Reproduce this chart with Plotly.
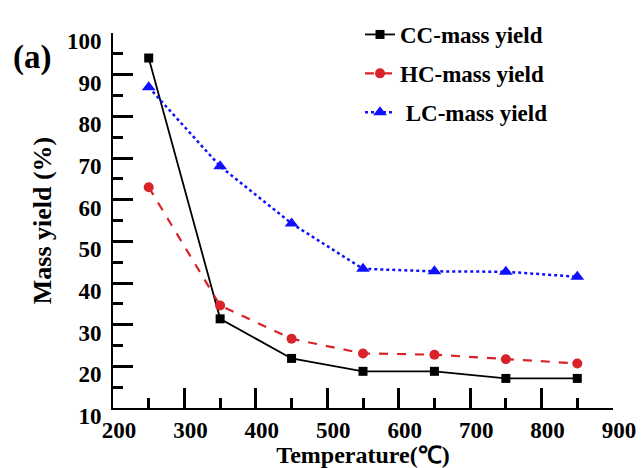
import plotly.graph_objects as go

temperature = [250, 350, 450, 550, 650, 750, 850]
cc_yield = [94.0, 31.4, 21.9, 18.8, 18.8, 17.1, 17.1]
hc_yield = [63.0, 34.6, 26.6, 23.1, 22.8, 21.7, 20.7]
lc_yield = [87.0, 68.0, 54.3, 43.4, 42.8, 42.7, 41.5]

x_ticks = [200, 300, 400, 500, 600, 700, 800, 900]
y_ticks = [10, 20, 30, 40, 50, 60, 70, 80, 90, 100]

X_RANGE = [200, 900]
Y_RANGE = [10, 100]
FONT = "Liberation Serif"

fig = go.Figure()
fig.add_trace(go.Scatter(
    x=temperature, y=cc_yield, name="CC-mass yield", mode="lines+markers",
    line=dict(color="black", width=1.8),
    marker=dict(symbol="square", size=9, color="black"),
    legendgroup="a"))
fig.add_trace(go.Scatter(
    x=temperature, y=hc_yield, name="HC-mass yield", mode="lines+markers",
    line=dict(color="#d8232a", width=2.2, dash="dash"),
    marker=dict(symbol="circle", size=10, color="#d8232a"),
    legendgroup="b"))
fig.add_trace(go.Scatter(
    x=temperature, y=lc_yield, name=" LC-mass yield", mode="lines+markers",
    line=dict(color="#1010ff", width=2.5, dash="dot"),
    marker=dict(symbol="triangle-up", size=12, color="#1010ff"),
    legendgroup="c"))

tickfont = dict(family=FONT, size=23, color="black", weight="bold")

fig.update_xaxes(
    range=X_RANGE, tickmode="array", tickvals=x_ticks, ticktext=[str(v) for v in x_ticks],
    showline=True, linecolor="black", linewidth=2, automargin=False,
    ticks="inside", tickcolor="black", tickwidth=3, ticklen=20,
    minor=dict(ticks="inside", ticklen=10, tickwidth=3, tickcolor="black", dtick=50, tick0=200),
    showgrid=False, zeroline=False, tickfont=tickfont,
    ticklabelshift=6,
    title=dict(text="<b>Temperature(℃)</b>", font=dict(family=FONT, size=24, color="black"), standoff=12),
)
fig.update_yaxes(
    range=Y_RANGE, tickmode="array", tickvals=y_ticks, ticktext=[str(v) for v in y_ticks],
    showline=True, linecolor="black", linewidth=2, automargin=False,
    ticks="inside", tickcolor="black", tickwidth=3, ticklen=20,
    minor=dict(ticks="inside", ticklen=10, tickwidth=3, tickcolor="black", dtick=5, tick0=10),
    showgrid=False, zeroline=False, tickfont=tickfont,
    ticklabelshift=8, ticklabelstandoff=5,
    title=dict(text="<b>Mass yield (%)</b>", font=dict(family=FONT, size=26, color="black"), standoff=8),
)

fig.add_annotation(
    text="<b>(a)</b>", xref="paper", yref="paper",
    x=(32 - 113) / 500, y=(408 - 58) / 375,
    xanchor="center", yanchor="middle",
    showarrow=False, font=dict(family=FONT, size=33, color="black"))

fig.update_layout(
    width=641, height=468,
    margin=dict(l=113, r=28, t=33, b=60),
    paper_bgcolor="white", plot_bgcolor="white",
    showlegend=True,
    legend=dict(
        x=(360 - 113) / 500, y=(408 - 13) / 375, xanchor="left", yanchor="top",
        bgcolor="rgba(0,0,0,0)", tracegroupgap=6,
        font=dict(family=FONT, size=23, color="black", weight="bold"),
    ),
)

fig.write_html("out.html")
